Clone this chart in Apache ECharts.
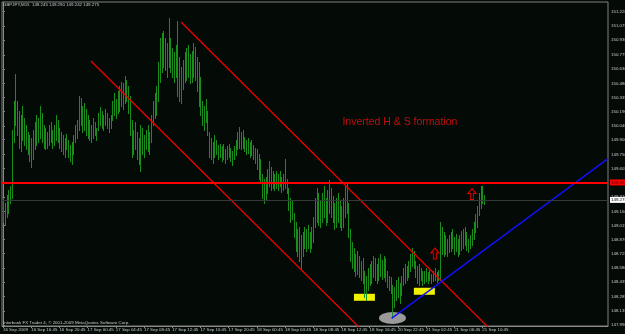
<!DOCTYPE html>
<html>
<head>
<meta charset="utf-8">
<script src="https://cdn.jsdelivr.net/npm/echarts@6/dist/echarts.min.js"></script>
<style>
html,body{margin:0;padding:0;background:#040b07;}
#c{width:625px;height:334px;}
</style>
</head>
<body>
<div id="c"></div>
<script>
// ---- data ----
const titleText = 'GBPJPY,M15  149.245 149.290 149.242 149.275';
const copyrightText = 'Interbank FX Trader 4, \u00a9 2001-2009 MetaQuotes Software Corp.';
const timeLabels = ['16 Sep 2009','16 Sep 16:45','16 Sep 20:45','17 Sep 00:45','17 Sep 04:45','17 Sep 08:45','17 Sep 12:45','17 Sep 16:45','17 Sep 20:45','18 Sep 00:45','18 Sep 04:45','18 Sep 08:45','18 Sep 12:45','18 Sep 16:45','20 Sep 22:45','21 Sep 02:45','21 Sep 06:45','21 Sep 10:45'];
const timeLabelBars = [0,16,32,48,64,80,96,112,128,144,160,176,192,208,224,240,256,272];
const priceTickLabels = ['151.220','151.075','150.930','150.775','150.630','150.480','150.335','150.190','150.040','149.900','149.750','149.605','149.455','149.310','149.160','149.015','148.870','148.725','148.580','148.435','148.285','148.135','147.990'];

const highs = [149.30,149.25,149.33,149.38,149.42,150.00,150.30,150.58,150.30,150.20,150.15,150.25,150.12,150.05,149.98,149.95,149.92,150.00,150.08,150.15,
150.12,150.25,150.18,150.05,150.02,149.98,150.05,150.08,150.00,150.05,150.15,150.10,150.02,149.98,149.95,149.92,149.96,149.90,149.85,149.88,
149.95,150.05,150.10,150.35,150.33,150.25,150.28,150.22,150.15,150.10,150.05,150.12,150.08,150.02,150.18,150.24,150.20,150.15,150.22,150.18,
150.12,150.15,150.30,150.38,150.32,150.40,150.45,150.50,150.48,150.56,150.52,150.45,150.35,150.10,150.00,150.08,149.98,149.92,150.05,150.02,
149.95,150.00,150.05,149.98,150.15,150.30,150.38,150.45,150.70,150.95,151.00,151.02,150.95,150.90,151.16,150.95,150.85,150.80,150.88,151.12,
150.75,150.65,150.72,150.80,150.85,150.88,150.78,150.82,150.90,150.86,150.75,150.70,150.55,150.30,150.25,150.32,150.20,149.98,149.92,149.88,
149.95,149.90,149.85,149.86,149.84,149.86,149.80,149.84,149.86,149.82,149.78,149.84,149.90,149.98,150.03,149.98,150.00,149.93,149.90,149.92,
149.88,149.90,149.85,149.82,149.80,149.75,149.70,149.55,149.50,149.52,149.60,149.68,149.62,149.58,149.55,149.58,149.55,149.58,149.52,149.55,
149.70,149.50,149.40,149.30,149.28,149.15,149.05,148.98,149.00,148.92,148.95,149.00,148.98,149.02,148.95,149.00,149.10,149.30,149.40,149.35,
149.28,149.35,149.42,149.30,149.38,149.48,149.40,149.32,149.25,149.30,149.35,149.28,149.22,149.30,149.42,149.45,149.25,148.98,148.85,148.78,
148.72,148.75,148.70,148.65,148.68,148.55,148.50,148.58,148.62,148.65,148.70,148.68,148.62,148.68,148.72,148.66,148.70,148.68,148.55,148.50,
148.48,148.40,148.38,148.45,148.48,148.42,148.50,148.58,148.62,148.60,148.65,148.72,148.78,148.75,148.65,148.60,148.62,148.58,148.55,148.55,
148.58,148.54,148.56,148.52,148.55,148.58,148.54,148.56,149.05,149.00,148.95,148.92,148.88,148.92,148.95,148.98,148.90,148.93,148.88,148.92,
148.96,148.98,149.00,148.95,148.88,148.92,148.98,149.05,149.13,149.22,149.35,149.42,149.42,149.33];

const lows = [149.05,149.02,149.10,149.15,149.25,149.30,149.88,150.05,149.95,149.82,149.78,149.90,149.85,149.80,149.75,149.68,149.62,149.70,149.80,149.85,
149.88,149.92,149.88,149.82,149.80,149.82,149.85,149.88,149.82,149.85,149.90,149.88,149.82,149.78,149.75,149.72,149.80,149.72,149.68,149.65,
149.75,149.88,149.92,150.00,150.05,149.98,150.00,149.95,149.92,149.90,149.88,149.92,149.95,149.90,150.00,150.05,150.02,150.00,150.05,150.02,
149.98,150.02,150.10,150.15,150.12,150.18,150.20,150.25,150.22,150.28,150.30,150.18,149.95,149.72,149.75,149.80,149.70,149.65,149.58,149.75,
149.72,149.80,149.78,149.75,149.88,150.05,150.12,150.15,150.30,150.50,150.60,150.65,150.62,150.55,150.65,150.60,150.55,150.50,150.55,150.35,
150.30,150.28,150.42,150.50,150.52,150.55,150.48,150.50,150.55,150.52,150.40,150.25,150.15,150.05,150.00,150.08,149.95,149.72,149.70,149.66,
149.72,149.75,149.70,149.72,149.68,149.70,149.66,149.70,149.72,149.68,149.64,149.70,149.74,149.80,149.82,149.80,149.82,149.78,149.75,149.76,
149.72,149.74,149.70,149.66,149.60,149.50,149.45,149.30,149.25,149.28,149.35,149.42,149.38,149.40,149.38,149.40,149.38,149.42,149.36,149.38,
149.40,149.35,149.18,149.05,149.08,148.90,148.75,148.70,148.65,148.58,148.70,148.78,148.75,148.78,148.74,148.78,148.85,149.00,149.05,149.02,
149.00,149.05,149.10,149.02,149.05,149.15,149.10,149.05,148.98,149.00,149.05,149.00,148.97,149.00,149.10,149.15,148.90,148.65,148.58,148.55,
148.50,148.52,148.48,148.45,148.42,148.28,148.25,148.35,148.40,148.42,148.48,148.45,148.42,148.45,148.50,148.46,148.48,148.44,148.38,148.35,
148.32,148.08,148.18,148.25,148.28,148.22,148.30,148.40,148.42,148.45,148.48,148.55,148.60,148.58,148.48,148.42,148.40,148.45,148.40,148.42,
148.44,148.42,148.45,148.42,148.44,148.45,148.43,148.45,148.45,148.72,148.70,148.72,148.70,148.74,148.75,148.78,148.72,148.75,148.70,148.72,
148.76,148.78,148.82,148.76,148.74,148.78,148.82,148.88,148.95,149.00,149.12,149.20,149.25,149.24];

// drawn objects on the chart, in [bar index, price]
const channelLower = [[49.9, 150.712], [203, 147.951]];
const channelUpper = [[101.0, 151.114], [276, 147.955]];
const necklineBlue = [[220.5, 148.059], [343.3, 149.706]];
const resistancePrice = 149.455;
const bidPrice = 149.275;
const headEllipse = [[221.0, 148.062]];
const shoulderBoxes = [[205.1, 148.276], [239.1, 148.338]];
const upArrows = [[245.1, 148.727], [266.1, 149.341]];
const noteText = 'Inverted H & S formation';
const notePos = [[225.2, 150.083]];

// ---- chart ----
const FONT = 'Liberation Sans';
const priceTickValues = priceTickLabels.map(Number);
const barData = highs.map((h, i) => [i, h, lows[i]]);

const chart = echarts.init(document.getElementById('c'), null, {renderer: 'canvas'});
chart.setOption({
  animation: false,
  backgroundColor: '#040b07',
  title: [
    {text: titleText, left: 3, top: 2.5, padding: 0, textStyle: {color: '#c8c8c8', fontSize: 4.4, fontWeight: 'normal', fontFamily: FONT}},
    {text: copyrightText, left: 3, top: 320.5, padding: 0, textStyle: {color: '#c8c8c8', fontSize: 4.4, fontWeight: 'normal', fontFamily: FONT}}
  ],
  grid: {left: 2, right: 17, top: 2, bottom: 8, containLabel: false, outerBoundsMode: 'none',
         show: true, borderColor: '#808080', borderWidth: 1, backgroundColor: 'transparent'},
  xAxis: {
    type: 'value', min: -0.567, max: 343.3,
    splitLine: {show: false},
    axisLine: {show: true, lineStyle: {color: '#8a8a8a', width: 1}},
    axisTick: {show: true, inside: false, length: 2, customValues: timeLabelBars, lineStyle: {color: '#8a8a8a'}},
    axisLabel: {
      show: true, customValues: timeLabelBars, align: 'left', margin: 2,
      color: '#c8c8c8', fontSize: 4.4, fontFamily: FONT,
      formatter: v => { const k = timeLabelBars.indexOf(Math.round(v)); return k >= 0 ? timeLabels[k] : ''; }
    }
  },
  yAxis: {
    type: 'value', position: 'right', min: 147.98, max: 151.32, scale: true,
    splitLine: {show: false},
    axisLine: {show: true, lineStyle: {color: '#8a8a8a', width: 1}},
    axisTick: {show: true, inside: false, length: 2, customValues: priceTickValues, lineStyle: {color: '#8a8a8a'}},
    axisLabel: {
      show: true, customValues: priceTickValues, margin: 3,
      color: '#c8c8c8', fontSize: 4.4, fontFamily: FONT,
      formatter: v => { let best = 0, d = 1e9; priceTickValues.forEach((t, k) => { if (Math.abs(t - v) < d) { d = Math.abs(t - v); best = k; } }); return priceTickLabels[best]; }
    }
  },
  series: [
    {
      type: 'scatter', z: 1, silent: true,
      data: headEllipse, symbol: 'circle', symbolSize: [27, 12],
      itemStyle: {color: '#9a9a9a', opacity: 1}
    },
    {
      type: 'scatter', z: 1, silent: true,
      data: shoulderBoxes, symbol: 'rect', symbolSize: [21, 7],
      itemStyle: {color: '#f0f000', opacity: 1}
    },
    {
      type: 'custom', z: 2, silent: true,
      data: barData,
      encode: {x: 0, y: [1, 2]},
      renderItem: (params, api) => {
        const p1 = api.coord([api.value(0), api.value(1)]);
        const p2 = api.coord([api.value(0), api.value(2)]);
        const px = Math.round(p1[0]) + 0.5;
        return {type: 'line', shape: {x1: px, y1: Math.round(p1[1]), x2: px, y2: Math.round(p2[1]) + 1},
                style: {stroke: '#1a8e1a', lineWidth: 1}};
      },
      markLine: {
        silent: true, symbol: 'none', animation: false,
        data: [
          {yAxis: resistancePrice, lineStyle: {color: '#ff0000', width: 2, type: 'solid'},
           label: {show: true, position: 'end', distance: 2, formatter: priceTickLabels[12], backgroundColor: '#ff0000', color: '#400000', fontSize: 4.4, fontFamily: FONT, padding: [1, 1]}},
          {yAxis: bidPrice, lineStyle: {color: '#343a38', width: 1, type: 'solid'},
           label: {show: true, position: 'end', distance: 2, formatter: '149.275', backgroundColor: '#ffffff', color: '#000000', fontSize: 4.4, fontFamily: FONT, padding: [1, 1]}}
        ]
      }
    },
    {type: 'line', z: 3, data: channelLower, symbol: 'none', silent: true, lineStyle: {color: '#f00000', width: 1.3}, clip: true},
    {type: 'line', z: 3, data: channelUpper, symbol: 'none', silent: true, lineStyle: {color: '#f00000', width: 1.3}, clip: true},
    {type: 'line', z: 3, data: necklineBlue, symbol: 'none', silent: true, lineStyle: {color: '#1010ff', width: 1.4}, clip: true},
    {
      type: 'scatter', z: 4, silent: true, data: upArrows,
      symbol: 'path://M5,0 L10,5 L7,5 L7,11 L3,11 L3,5 L0,5 Z', symbolSize: [8, 11],
      itemStyle: {color: '#1a0404', borderColor: '#e00000', borderWidth: 1, opacity: 1}
    },
    {
      type: 'scatter', z: 4, silent: true, data: notePos, symbolSize: 1,
      itemStyle: {color: 'rgba(0,0,0,0)'},
      label: {show: true, position: 'inside', formatter: noteText, color: '#ee1010', fontSize: 10.5, fontFamily: FONT}
    }
  ]
});
</script>
</body>
</html>
